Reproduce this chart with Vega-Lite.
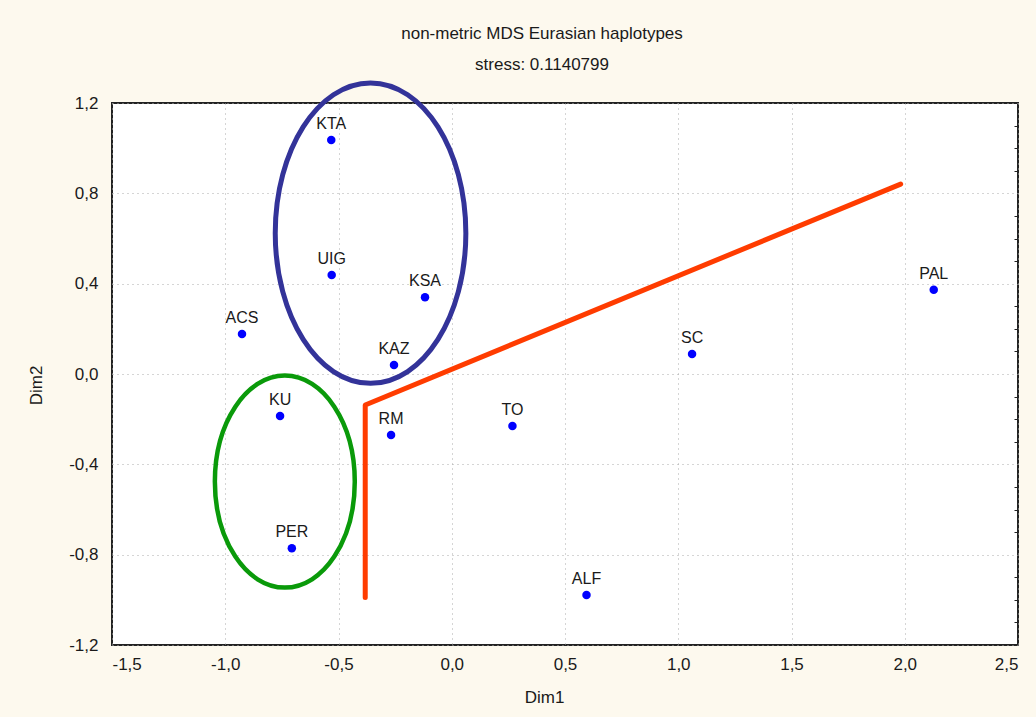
{
  "$schema": "https://vega.github.io/schema/vega-lite/v6.json",
  "width": 906,
  "height": 542,
  "autosize": "none",
  "padding": {"left": 112, "top": 103, "right": 18, "bottom": 72},
  "background": "#FDF9EE",
  "title": {
    "text": ["non-metric MDS Eurasian haplotypes", "stress: 0.1140799"],
    "lineHeight": 31,
    "font": "Liberation Sans",
    "fontSize": 17,
    "fontWeight": "normal",
    "color": "#1a1a1a",
    "anchor": "middle",
    "dx": -23,
    "offset": -1
  },
  "config": {
    "view": {"fill": "#FFFFFF", "stroke": "#222222", "strokeWidth": 2},
    "axis": {
      "labelFont": "Liberation Sans",
      "labelFontSize": 17,
      "labelColor": "#1a1a1a",
      "titleFont": "Liberation Sans",
      "titleFontSize": 17,
      "titleFontWeight": "normal",
      "titleColor": "#1a1a1a",
      "domain": false,
      "ticks": false,
      "grid": true,
      "gridColor": "#AAAAAA",
      "gridDash": [1, 4],
      "gridWidth": 1
    }
  },
  "resolve": {"axis": {"y": "independent"}},
  "datasets": {
    "haplotypes": [
      {"pop": "KTA", "Dim1": -0.532, "Dim2": 1.036},
      {"pop": "UIG", "Dim1": -0.530, "Dim2": 0.438},
      {"pop": "KSA", "Dim1": -0.118, "Dim2": 0.340},
      {"pop": "ACS", "Dim1": -0.926, "Dim2": 0.177},
      {"pop": "KAZ", "Dim1": -0.255, "Dim2": 0.040},
      {"pop": "KU", "Dim1": -0.758, "Dim2": -0.186},
      {"pop": "PER", "Dim1": -0.706, "Dim2": -0.772},
      {"pop": "RM", "Dim1": -0.268, "Dim2": -0.270},
      {"pop": "TO", "Dim1": 0.268, "Dim2": -0.230},
      {"pop": "ALF", "Dim1": 0.595, "Dim2": -0.979},
      {"pop": "SC", "Dim1": 1.061, "Dim2": 0.089},
      {"pop": "PAL", "Dim1": 2.128, "Dim2": 0.373}
    ],
    "clusters": [
      {"cluster": "central", "Dim1": -0.3585, "Dim2": 0.6236},
      {"cluster": "southern", "Dim1": -0.737, "Dim2": -0.4765}
    ],
    "divider": [
      {"step": 1, "Dim1": -0.382, "Dim2": -0.990},
      {"step": 2, "Dim1": -0.382, "Dim2": -0.137},
      {"step": 3, "Dim1": 1.982, "Dim2": 0.841}
    ]
  },
  "encoding": {
    "x": {
      "field": "Dim1",
      "type": "quantitative",
      "title": "Dim1",
      "scale": {"domain": [-1.5, 2.5], "nice": false, "zero": false},
      "axis": {
        "values": [-1.5, -1, -0.5, 0, 0.5, 1, 1.5, 2, 2.5],
        "labelExpr": "replace(replace(format(datum.value, '.1f'), '.', ','), '\u2212', '-')",
        "labelPadding": 11,
        "titleX": 432,
        "titleY": 52,
        "titleBaseline": "middle",
        "titleAlign": "center"
      }
    }
  },
  "layer": [
    {
      "data": {"name": "clusters"},
      "transform": [{"filter": "datum.cluster === 'central'"}],
      "mark": {
        "type": "point",
        "shape": "M -0.6345 0 A 0.6345 1 0 1 0 0.6345 0 A 0.6345 1 0 1 0 -0.6345 0 Z",
        "size": 90240,
        "filled": false,
        "stroke": "#333399",
        "strokeWidth": 5,
        "opacity": 1
      },
      "encoding": {
        "y": {
          "field": "Dim2",
          "type": "quantitative",
          "title": "Dim2",
          "scale": {"domain": [-1.2, 1.2], "nice": false, "zero": false},
          "axis": {
            "values": [-1.2, -0.8, -0.4, 0, 0.4, 0.8, 1.2],
            "labelExpr": "replace(replace(format(datum.value, '.1f'), '.', ','), '\u2212', '-')",
            "labelPadding": 14,
            "titleX": -76,
            "titleY": 282,
            "titleBaseline": "middle",
            "titleAlign": "center"
          }
        }
      }
    },
    {
      "data": {"name": "clusters"},
      "transform": [{"filter": "datum.cluster === 'southern'"}],
      "mark": {
        "type": "point",
        "shape": "M -0.66 0 A 0.66 1 0 1 0 0.66 0 A 0.66 1 0 1 0 -0.66 0 Z",
        "size": 44944,
        "filled": false,
        "stroke": "#0A9A0A",
        "strokeWidth": 4.5,
        "opacity": 1
      },
      "encoding": {
        "y": {
          "field": "Dim2",
          "type": "quantitative",
          "axis": {
            "orient": "right",
            "title": null,
            "labels": false,
            "grid": false,
            "ticks": true,
            "tickSize": -4,
            "tickColor": "#222222",
            "tickWidth": 1,
            "values": [-1.1, -1.0, -0.9, -0.7, -0.6, -0.5, -0.3, -0.2, -0.1, 0.1, 0.2, 0.3, 0.5, 0.6, 0.7, 0.9, 1.0, 1.1]
          }
        }
      }
    },
    {
      "data": {"name": "divider"},
      "mark": {"type": "line", "color": "#FF3C00", "strokeWidth": 5, "strokeCap": "round", "strokeJoin": "round"},
      "encoding": {
        "y": {"field": "Dim2", "type": "quantitative", "axis": null},
        "order": {"field": "step", "type": "quantitative"}
      }
    },
    {
      "data": {"name": "haplotypes"},
      "mark": {"type": "point", "shape": "circle", "filled": true, "size": 72, "color": "#0000FF", "opacity": 1},
      "encoding": {"y": {"field": "Dim2", "type": "quantitative", "axis": null}}
    },
    {
      "data": {"name": "haplotypes"},
      "mark": {
        "type": "text",
        "font": "Liberation Sans",
        "fontSize": 16,
        "color": "#1a1a1a",
        "align": "center",
        "baseline": "alphabetic",
        "dy": -11
      },
      "encoding": {
        "y": {"field": "Dim2", "type": "quantitative", "axis": null},
        "text": {"field": "pop"}
      }
    }
  ]
}
